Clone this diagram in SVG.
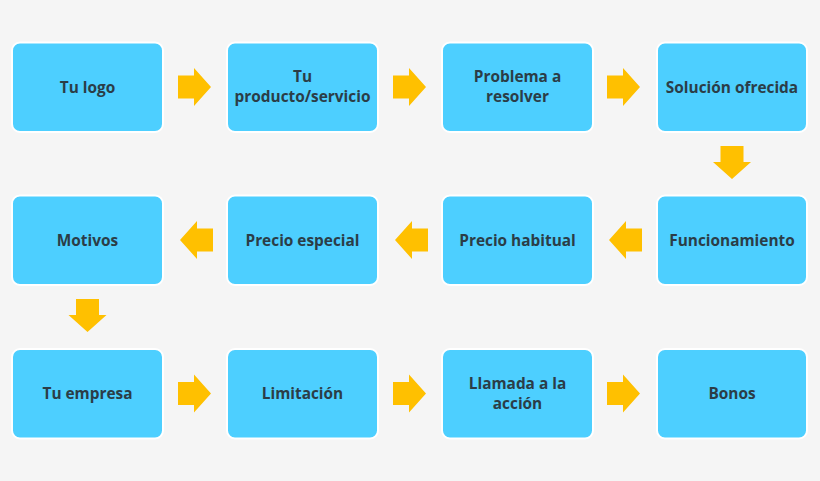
<svg xmlns="http://www.w3.org/2000/svg" width="820" height="481" viewBox="0 0 820 481">
<style>
.box{fill:#4dcfff;stroke:#ffffff;stroke-width:2}
.lbl{font-family:"Open Sans","Noto Sans","Liberation Sans",sans-serif;font-weight:700;font-size:15.4px;fill:#2b3d47;text-anchor:middle}
.arr{fill:#ffc000}
</style>
<defs>
<path id="ar" d="M0,-11.5 H16 V-19 L33,0 L16,19 V11.5 H0 Z"/>
</defs>
<rect width="820" height="481" fill="#f5f5f5"/>
<g id="connectors">
<use href="#ar" class="arr" transform="translate(178,87)"/>
<use href="#ar" class="arr" transform="translate(393,87)"/>
<use href="#ar" class="arr" transform="translate(607,87)"/>
<use href="#ar" class="arr" transform="translate(732,146) rotate(90)"/>
<use href="#ar" class="arr" transform="translate(642,240) rotate(180)"/>
<use href="#ar" class="arr" transform="translate(428,240) rotate(180)"/>
<use href="#ar" class="arr" transform="translate(213,240) rotate(180)"/>
<use href="#ar" class="arr" transform="translate(87.5,299) rotate(90)"/>
<use href="#ar" class="arr" transform="translate(178,393.5)"/>
<use href="#ar" class="arr" transform="translate(393,393.5)"/>
<use href="#ar" class="arr" transform="translate(607,393.5)"/>
</g>
<g id="n1"><rect class="box" x="12" y="42.5" width="151" height="89.5" rx="8"/><text class="lbl" x="87.5" y="92.5">Tu logo</text></g>
<g id="n2"><rect class="box" x="227" y="42.5" width="151" height="89.5" rx="8"/><text class="lbl" x="302.5" y="82">Tu</text><text class="lbl" x="302.5" y="102">producto/servicio</text></g>
<g id="n3"><rect class="box" x="442" y="42.5" width="151" height="89.5" rx="8"/><text class="lbl" x="517.5" y="82">Problema a</text><text class="lbl" x="517.5" y="102">resolver</text></g>
<g id="n4"><rect class="box" x="657" y="42.5" width="150" height="89.5" rx="8"/><text class="lbl" x="732" y="92.5">Solución ofrecida</text></g>
<g id="n5"><rect class="box" x="657" y="195.5" width="150" height="89.5" rx="8"/><text class="lbl" x="732" y="245.5">Funcionamiento</text></g>
<g id="n6"><rect class="box" x="442" y="195.5" width="151" height="89.5" rx="8"/><text class="lbl" x="517.5" y="245.5">Precio habitual</text></g>
<g id="n7"><rect class="box" x="227" y="195.5" width="151" height="89.5" rx="8"/><text class="lbl" x="302.5" y="245.5">Precio especial</text></g>
<g id="n8"><rect class="box" x="12" y="195.5" width="151" height="89.5" rx="8"/><text class="lbl" x="87.5" y="245.5">Motivos</text></g>
<g id="n9"><rect class="box" x="12" y="349" width="151" height="89.5" rx="8"/><text class="lbl" x="87.5" y="399">Tu empresa</text></g>
<g id="n10"><rect class="box" x="227" y="349" width="151" height="89.5" rx="8"/><text class="lbl" x="302.5" y="399">Limitación</text></g>
<g id="n11"><rect class="box" x="442" y="349" width="151" height="89.5" rx="8"/><text class="lbl" x="517.5" y="388.5">Llamada a la</text><text class="lbl" x="517.5" y="408.5">acción</text></g>
<g id="n12"><rect class="box" x="657" y="349" width="150" height="89.5" rx="8"/><text class="lbl" x="732" y="399">Bonos</text></g>
</svg>
